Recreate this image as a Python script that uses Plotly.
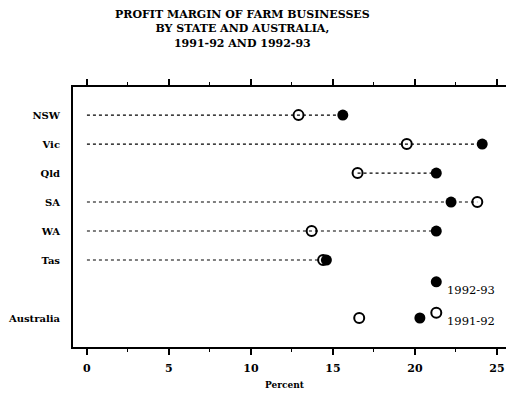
import plotly.graph_objects as go

# Profit margin (%) by state
regions = ["NSW", "Vic", "Qld", "SA", "WA", "Tas", "Australia"]
row_pos = [6, 5, 4, 3, 2, 1, -1]
margin_9192 = [12.9, 19.5, 16.5, 23.8, 13.7, 14.4, 16.6]
margin_9293 = [15.6, 24.1, 21.3, 22.2, 21.3, 14.6, 20.3]
# where each dotted guide begins (None = no guide)
guide_start = [0, 0, 16.5, 0, 0, 0, None]

x_ticks = [0, 5, 10, 15, 20, 25]
x_minor = [2.5, 7.5, 12.5, 17.5, 22.5]

legend_labels = ["1992-93", "1991-92"]
legend_x = [21.3, 21.3]
legend_y = [0.25, -0.82]

FONT = "DejaVu Serif"
W, H = 506, 394
L, R, T, B = 73, 0, 87, 47
pw, ph = W - L - R, H - T - B

fig = go.Figure()

# dotted guide lines
for start, a, b, y in zip(guide_start, margin_9192, margin_9293, row_pos):
    if start is None:
        continue
    fig.add_trace(go.Scatter(
        x=[start, max(a, b)], y=[y, y], mode="lines",
        line=dict(color="black", width=1.1, dash="dot"),
        hoverinfo="skip", showlegend=False))

fig.add_trace(go.Scatter(
    x=margin_9192, y=row_pos, mode="markers", name="1991-92",
    marker=dict(symbol="circle-open", size=10, color="black",
                line=dict(width=2, color="black")),
    showlegend=False))
fig.add_trace(go.Scatter(
    x=margin_9293, y=row_pos, mode="markers", name="1992-93",
    marker=dict(symbol="circle", size=11, color="black"),
    showlegend=False))

# in-plot key
fig.add_trace(go.Scatter(
    x=legend_x[:1], y=legend_y[:1], mode="markers",
    marker=dict(symbol="circle", size=11, color="black"), showlegend=False))
fig.add_trace(go.Scatter(
    x=legend_x[1:], y=legend_y[1:], mode="markers",
    marker=dict(symbol="circle-open", size=10, color="black",
                line=dict(width=2, color="black")), showlegend=False))
for lx, ly, lab in zip(legend_x, legend_y, legend_labels):
    fig.add_annotation(x=lx + 0.55, y=ly - 0.28, text=lab, showarrow=False,
                       xanchor="left", yanchor="middle",
                       font=dict(family=FONT, size=11.5, color="black"))

# top axis mirror with ticks only
fig.add_trace(go.Scatter(x=[0], y=[0], xaxis="x2", mode="markers",
                         marker=dict(opacity=0), hoverinfo="skip",
                         showlegend=False))

xrange = [-0.85, 25.55]
tick_style = dict(
    range=xrange, tickvals=x_ticks, ticks="outside",
    ticklen=6, tickwidth=1.5, tickcolor="black", showline=True,
    linecolor="black", linewidth=2, showgrid=False, zeroline=False,
    minor=dict(tickvals=x_minor, ticks="outside",
               ticklen=3, tickwidth=1, tickcolor="black"))


def px_to_paper(xp, yp):
    return (xp - L) / pw, 1 + (T - yp) / ph


title_text = "<br>".join([
    "PROFIT MARGIN OF FARM BUSINESSES",
    "BY STATE AND AUSTRALIA,",
    "1991-92 AND 1992-93"])
tx, ty = px_to_paper(242, 29)
fig.add_annotation(x=tx, y=ty, xref="paper", yref="paper",
                   text=title_text, showarrow=False,
                   xanchor="center", yanchor="middle", align="center",
                   font=dict(family=FONT, size=11, color="black",
                             weight="bold"))

px_, py_ = px_to_paper(285, 385)
fig.add_annotation(x=px_, y=py_, xref="paper", yref="paper",
                   text="Percent", showarrow=False,
                   xanchor="center", yanchor="middle",
                   font=dict(family=FONT, size=9, color="black",
                             weight="bold"))

fig.update_layout(
    template="none",
    font=dict(family=FONT, color="black"),
    width=W, height=H, margin=dict(l=L, r=R, t=T, b=B),
    paper_bgcolor="white", plot_bgcolor="white",
    xaxis=dict(**tick_style, side="bottom",
               ticktext=[str(v) for v in x_ticks], tickmode="array",
               ticklabelstandoff=4,
               tickfont=dict(family=FONT, size=11, color="#000000",
                             weight="bold")),
    xaxis2=dict(**tick_style, side="top", overlaying="x", showticklabels=False),
    yaxis=dict(range=[-2.0, 6.97], tickvals=row_pos, ticktext=regions,
               showline=True, linecolor="black", linewidth=2, ticks="",
               ticklabelstandoff=9, showgrid=False, zeroline=False,
               tickfont=dict(family=FONT, size=10, color="black",
                             weight="bold")),
    showlegend=False,
)

fig.write_html("out.html")
